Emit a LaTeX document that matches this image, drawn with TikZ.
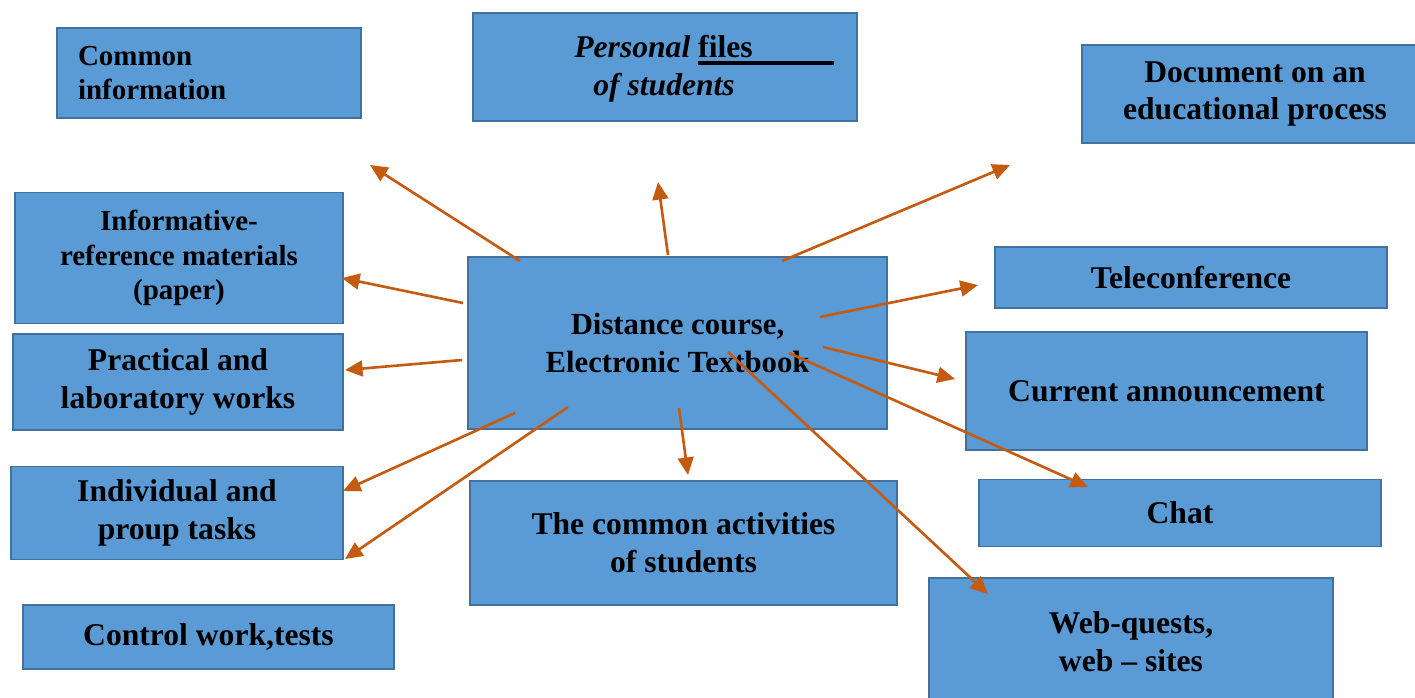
\documentclass[tikz,border=0pt]{standalone}
\usepackage{fontspec}
\setmainfont{Liberation Serif}
\usepackage{tikz}
\usetikzlibrary{arrows.meta}
\definecolor{cardfill}{HTML}{5B9BD5}
\definecolor{cardline}{HTML}{41719C}
\definecolor{linkcol}{HTML}{C55A11}

\begin{document}
\begin{tikzpicture}[x=0.02cm, y=-0.02cm]
  \tikzstyle{card}=[rectangle, draw=cardline, fill=cardfill, line width=1.1pt,
    inner sep=0pt, align=center, font=\bfseries\fontsize{18}{21.5}\selectfont]
  \tikzstyle{small}=[font=\bfseries\fontsize{16.5}{19.6}\selectfont]
  \tikzstyle{link}=[draw=linkcol, line width=1.5pt, -{Triangle[length=10pt,width=9pt]}]
  \useasboundingbox (0,0) rectangle (1415,697);
  \clip (0,0) rectangle (1415,697);

  % boxes
  \node[card, small, minimum width=6.08cm, minimum height=1.8cm, text width=5.24cm, align=left]
    (info) at (209,73) {Common\\information};
  \node[card, minimum width=7.68cm, minimum height=2.16cm] (files) at (665,67) {};
  \node[anchor=west, inner sep=0pt, align=left, font=\bfseries\fontsize{18}{21.5}\selectfont] (filestext) at (574,69)
    {\textit{Personal} \rlap{\rule[-3.8pt]{2.72cm}{1.9pt}}files\\\hspace*{0.38cm}\textit{of students}};
  \node[card, minimum width=6.92cm, minimum height=1.96cm] (doc) at (1255,94) {Document on an\\educational process};
  \node[card, small, minimum width=6.56cm, minimum height=2.62cm] (inforef) at (179,258) {Informative-\\reference materials\\(paper)};
  \node[card, minimum width=7.84cm, minimum height=1.22cm] (tele) at (1191,277.5) {Teleconference};
  \node[card, minimum width=6.6cm, minimum height=1.92cm] (pract) at (178,382) {Practical and\\laboratory works};
  \node[card, minimum width=8.38cm, minimum height=3.44cm, font=\bfseries\fontsize{17.5}{21.5}\selectfont]
    (course) at (677.5,343) {Distance course,\\Electronic Textbook};
  \node[card, minimum width=8.02cm, minimum height=2.36cm] (announce) at (1166.5,391) {Current announcement};
  \node[card, minimum width=6.64cm, minimum height=1.86cm] (tasks) at (177,513) {Individual and\\proup tasks};
  \node[card, minimum width=8.54cm, minimum height=2.48cm] (activ) at (683.5,543) {The common activities\\of students};
  \node[card, minimum width=8.04cm, minimum height=1.34cm] (chat) at (1180,513) {Chat};
  \node[card, minimum width=7.42cm, minimum height=1.28cm] (control) at (208.5,637) {Control work,tests};
  \node[card, minimum width=8.08cm, minimum height=2.56cm] (web) at (1131,642) {Web-quests,\\web -- sites};

  % arrow ends
  \coordinate (s_info) at (520,261);
  \coordinate (e_info) at (370,165);
  \coordinate (s_files) at (668,255);
  \coordinate (e_files) at (658,182);
  \coordinate (s_doc) at (782,261);
  \coordinate (e_doc) at (1010,165);
  \coordinate (s_inforef) at (463,303);
  \coordinate (e_inforef) at (342,278);
  \coordinate (s_pract) at (462,360);
  \coordinate (e_pract) at (345,370);
  \coordinate (s_tele) at (820,317);
  \coordinate (e_tele) at (978,285);
  \coordinate (s_announce) at (823,347);
  \coordinate (e_announce) at (955,379);
  \coordinate (s_tasks) at (515,413);
  \coordinate (e_tasks) at (343,491);
  \coordinate (s_control) at (568,407);
  \coordinate (e_control) at (345,559);
  \coordinate (s_activ) at (679,408);
  \coordinate (e_activ) at (688,475);
  \coordinate (s_chat) at (789,353);
  \coordinate (e_chat) at (1088,487);
  \coordinate (s_web) at (728,352);
  \coordinate (e_web) at (988,594);

  \draw[link] (s_info) -- (e_info);
  \draw[link] (s_files) -- (e_files);
  \draw[link] (s_doc) -- (e_doc);
  \draw[link] (s_inforef) -- (e_inforef);
  \draw[link] (s_pract) -- (e_pract);
  \draw[link] (s_tele) -- (e_tele);
  \draw[link] (s_announce) -- (e_announce);
  \draw[link] (s_tasks) -- (e_tasks);
  \draw[link] (s_control) -- (e_control);
  \draw[link] (s_activ) -- (e_activ);
  \draw[link] (s_chat) -- (e_chat);
  \draw[link] (s_web) -- (e_web);
\end{tikzpicture}
\end{document}
